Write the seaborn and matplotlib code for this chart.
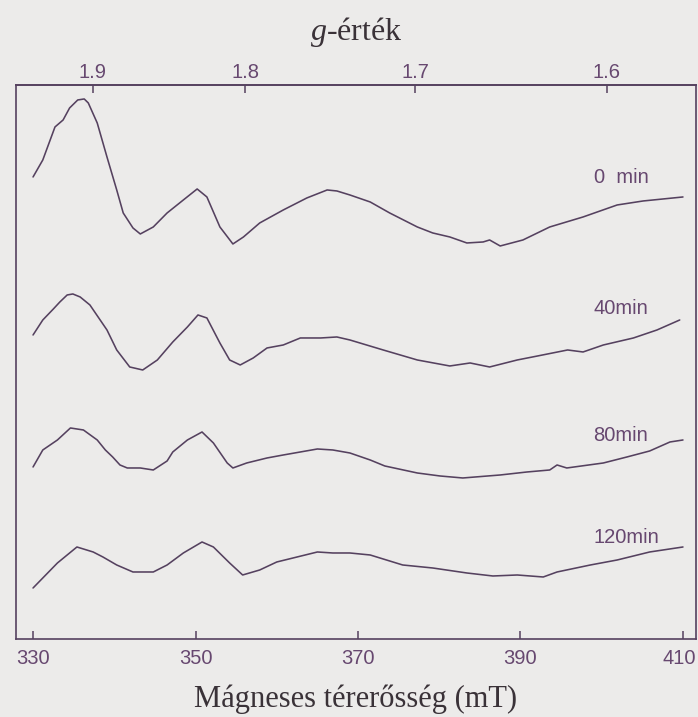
import numpy as np
import pandas as pd
import matplotlib
matplotlib.use("Agg")
import matplotlib.pyplot as plt
from matplotlib.ticker import FormatStrFormatter
from matplotlib.transforms import ScaledTranslation
import seaborn as sns

# EPR spectra recorded after 0, 40, 80 and 120 min (stacked, arbitrary units)
field_0min = [330.0, 331.2, 332.7, 333.7, 334.5, 335.5, 336.3, 336.8, 337.9, 339.1,
              340.3, 341.1, 342.3, 343.2, 344.8, 346.5, 348.5, 350.2, 351.4, 353.0,
              354.6, 355.9, 357.9, 360.8, 363.7, 366.2, 367.4, 369.0, 371.5, 373.9,
              377.3, 379.2, 381.3, 383.4, 385.4, 386.2, 387.5, 390.3, 393.6, 397.7,
              401.9, 405.1, 410.0]
signal_0min = [46.2, 47.9, 51.2, 51.9, 53.1, 53.9, 54.0, 53.6, 51.6, 48.2,
               44.9, 42.6, 41.1, 40.5, 41.2, 42.6, 43.9, 45.0, 44.2, 41.2,
               39.5, 40.2, 41.6, 42.9, 44.1, 44.9, 44.8, 44.4, 43.7, 42.6,
               41.2, 40.6, 40.2, 39.6, 39.7, 39.9, 39.3, 39.9, 41.2, 42.2,
               43.4, 43.8, 44.2]

field_40min = [330.0, 331.2, 332.5, 333.3, 334.2, 334.9, 335.8, 337.0, 339.1, 340.3,
               341.9, 343.5, 345.3, 347.2, 349.0, 350.3, 351.4, 353.0, 354.2, 355.5,
               357.1, 358.8, 360.8, 362.9, 365.4, 367.4, 369.0, 373.1, 377.3, 381.3,
               383.8, 386.2, 389.6, 392.1, 395.8, 397.7, 400.2, 403.9, 406.8, 409.6]
signal_40min = [30.4, 31.9, 33.0, 33.7, 34.4, 34.5, 34.2, 33.4, 30.9, 28.9,
                27.2, 26.9, 27.9, 29.7, 31.2, 32.4, 32.1, 29.6, 27.9, 27.4,
                28.1, 29.1, 29.4, 30.1, 30.1, 30.2, 29.9, 28.9, 27.9, 27.3,
                27.6, 27.2, 27.9, 28.3, 28.9, 28.7, 29.4, 30.1, 30.9, 31.9]

field_80min = [330.0, 331.2, 333.0, 334.6, 336.2, 337.9, 338.9, 339.8, 340.7, 341.6,
               343.2, 344.8, 346.5, 347.2, 349.0, 350.8, 352.2, 353.9, 354.6, 356.3,
               358.8, 360.8, 362.9, 365.0, 366.9, 369.0, 371.5, 373.3, 377.3, 380.1,
               382.9, 387.5, 390.8, 393.6, 394.5, 395.7, 400.2, 403.1, 405.9, 408.4,
               410.0]
signal_80min = [17.2, 18.9, 19.9, 21.1, 20.9, 19.9, 18.9, 18.2, 17.4, 17.1,
                17.1, 16.9, 17.8, 18.7, 19.9, 20.7, 19.6, 17.6, 17.1, 17.6,
                18.1, 18.4, 18.7, 19.0, 18.9, 18.6, 17.9, 17.3, 16.6, 16.3,
                16.1, 16.4, 16.7, 16.9, 17.4, 17.1, 17.6, 18.2, 18.8, 19.7,
                19.9]

field_120min = [330.0, 331.2, 333.0, 335.4, 337.4, 338.6, 340.3, 342.3, 344.8, 346.5,
                348.5, 350.8, 352.2, 354.2, 355.8, 357.9, 360.0, 362.5, 365.0, 366.9,
                369.0, 371.5, 375.5, 379.2, 383.4, 386.6, 389.6, 392.8, 394.5, 398.6,
                401.9, 405.9, 410.0]
signal_120min = [5.1, 6.1, 7.6, 9.2, 8.7, 8.2, 7.4, 6.7, 6.7, 7.4,
                 8.6, 9.7, 9.2, 7.6, 6.4, 6.9, 7.7, 8.2, 8.7, 8.6,
                 8.6, 8.4, 7.4, 7.1, 6.6, 6.3, 6.4, 6.2, 6.7, 7.4,
                 7.9, 8.7, 9.2]

time_labels = ["0  min", "40min", "80min", "120min"]
label_lift = [2.5, 2.9, 2.0, 1.8]  # gap between each curve and its label
field_ticks = [330, 350, 370, 390, 410]
g_ticks = [1.9, 1.8, 1.7, 1.6]
G_CONST = 641.0  # g * B (mT) for the spectrometer frequency

paper = "#ecebea"
ink = "#55415f"
label_ink = "#674870"
text_ink = "#3a3238"

sns.set_theme(style="white")
plt.rcParams["font.family"] = ["Liberation Sans", "DejaVu Sans"]
plt.rcParams["mathtext.fontset"] = "custom"
plt.rcParams["mathtext.it"] = "Liberation Serif:italic"
plt.rcParams["mathtext.rm"] = "Liberation Serif"

fields = [field_0min, field_40min, field_80min, field_120min]
signals = [signal_0min, signal_40min, signal_80min, signal_120min]
df = pd.concat(
    [pd.DataFrame({"field": f, "signal": s, "time": t})
     for f, s, t in zip(fields, signals, time_labels)],
    ignore_index=True,
)

fig = plt.figure(figsize=(6.98, 7.17), dpi=100, facecolor=paper)
ax = fig.add_axes([0.0229, 0.1088, 0.9742, 0.7727], facecolor=paper)

sns.lineplot(data=df, x="field", y="signal", units="time", estimator=None,
             sort=False, color=ink, lw=1.15, ax=ax)

# curve labels just above the right-hand end of each spectrum
for f, s, t, lift in zip(fields, signals, time_labels, label_lift):
    y_lab = np.interp(404.0, f, s) + lift
    ax.text(399.0, y_lab, t, ha="left", va="center", fontsize=14.5, color=label_ink)

ax.set_xlim(327.9, 411.6)
ax.set_ylim(0, 55.4)
ax.set_xticks(field_ticks)
ax.set_yticks([])
ax.set_ylabel("")
for sp in ax.spines.values():
    sp.set_color(ink)
    sp.set_linewidth(1.2)
ax.tick_params(axis="x", direction="in", length=6, width=1.1, color=ink,
               labelcolor=label_ink, labelsize=14.5, pad=7, bottom=True)
ax.set_xlabel("Mágneses térerősség (mT)", family="Liberation Serif",
              fontsize=22, color=text_ink, labelpad=12)

# keep the last field label inside the page edge
last = ax.get_xticklabels()[-1]
last.set_transform(last.get_transform() + ScaledTranslation(-3 / 72, 0, fig.dpi_scale_trans))


def field_to_g(b):
    b = np.asarray(b, dtype=float)
    with np.errstate(divide="ignore", invalid="ignore"):
        return G_CONST / b


sec = ax.secondary_xaxis("top", functions=(field_to_g, field_to_g))
sec.set_xticks(g_ticks)
sec.xaxis.set_major_formatter(FormatStrFormatter("%.1f"))
sec.tick_params(direction="in", length=6, width=1.1, color=ink,
                labelcolor=label_ink, labelsize=14.5, pad=2)
sec.spines["top"].set_color(ink)
sec.spines["top"].set_linewidth(1.2)
sec.set_xlabel("$g$-érték", family="Liberation Serif", fontsize=23,
               color=text_ink, labelpad=16.5)

fig.savefig("out.png", dpi=100, facecolor=paper)
